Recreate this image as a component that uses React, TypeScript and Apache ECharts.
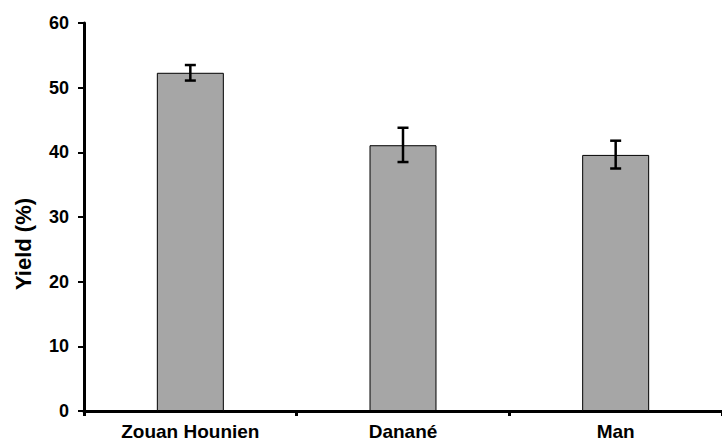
import React, { useEffect, useRef } from "react";
import * as echarts from "echarts";

const categories = ["Zouan Hounien", "Danané", "Man"];
const yieldValues = [52.3, 41.1, 39.6];
const errLow = [51.1, 38.5, 37.5];
const errHigh = [53.5, 43.8, 41.8];
const yTicks = { min: 0, max: 60, interval: 10 };
const yTitle = "Yield (%)";

export default function App() {
  const ref = useRef<HTMLDivElement>(null);
  useEffect(() => {
    if (!ref.current) return;
    const chart = echarts.init(ref.current, null, { renderer: "svg" });
    const font = "'Liberation Sans', Arial, sans-serif";
    chart.setOption({
      animation: false,
      backgroundColor: "#ffffff",
      grid: { left: 84, right: -9, top: 23, bottom: 32, containLabel: false },
      graphic: [
        {
          type: "text",
          x: 23,
          y: 244,
          rotation: Math.PI / 2,
          style: {
            text: yTitle,
            font: `bold 22px ${font}`,
            fill: "#000",
            textAlign: "center",
            textVerticalAlign: "middle",
          },
        },
      ],
      xAxis: {
        type: "category",
        data: categories,
        axisLine: { lineStyle: { color: "#000", width: 3 } },
        axisTick: { show: true, length: 5, lineStyle: { color: "#000", width: 3 } },
        axisLabel: { color: "#000", fontFamily: font, fontWeight: "bold", fontSize: 19, margin: 11 },
      },
      yAxis: {
        type: "value",
        min: yTicks.min,
        max: yTicks.max,
        interval: yTicks.interval,
        splitLine: { show: false },
        axisLine: { show: true, lineStyle: { color: "#000", width: 3 } },
        axisTick: { show: true, length: 6, lineStyle: { color: "#000", width: 2 } },
        axisLabel: { color: "#000", fontFamily: font, fontWeight: "bold", fontSize: 18, margin: 15 },
      },
      series: [
        {
          type: "bar",
          data: yieldValues,
          barWidth: "31.5%",
          itemStyle: { color: "#a6a6a6", borderColor: "#000", borderWidth: 1 },
        },
        {
          type: "custom",
          data: categories.map((_, i) => [i, errLow[i], errHigh[i]]),
          z: 10,
          renderItem: (params: any, api: any) => {
            const x = api.value(0);
            const lo = api.coord([x, api.value(1)]);
            const hi = api.coord([x, api.value(2)]);
            const cap = 5.5;
            const style = { stroke: "#000", lineWidth: 2.5 };
            return {
              type: "group",
              children: [
                { type: "line", shape: { x1: hi[0], y1: hi[1], x2: lo[0], y2: lo[1] }, style },
                { type: "line", shape: { x1: hi[0] - cap, y1: hi[1], x2: hi[0] + cap, y2: hi[1] }, style },
                { type: "line", shape: { x1: lo[0] - cap, y1: lo[1], x2: lo[0] + cap, y2: lo[1] }, style },
              ],
            };
          },
        },
      ],
    });
    return () => chart.dispose();
  }, []);
  return <div ref={ref} style={{ width: 722, height: 443, position: "absolute", left: 0, top: 0 }} />;
}
